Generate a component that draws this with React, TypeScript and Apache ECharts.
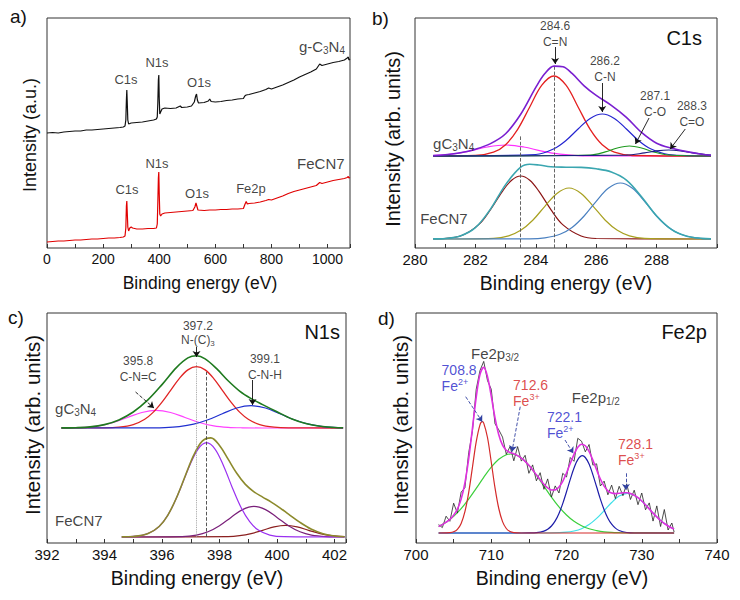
import React, { useEffect, useRef } from "react";
import * as echarts from "echarts";

const FONT = '"Liberation Sans", Arial, Helvetica, sans-serif';

// ---------- panel a: XPS survey (x: eV, y: relative intensity) ----------
const surveyGC3N4: number[][] = [
  [0, 115], [20, 115.5], [40, 115], [60, 116], [80, 116.5], [100, 117], [120, 117], [140, 118], [160, 118],
  [180, 118.5], [200, 119], [220, 119.5], [240, 120], [260, 120.5], [272, 121], [278, 122], [281, 128],
  [283, 148], [284.5, 158], [286, 146], [288, 128], [291, 124], [300, 125], [320, 125.5], [340, 126],
  [360, 127], [380, 128], [390, 129], [393, 131], [395, 145], [397, 168], [398.5, 173], [400, 150],
  [402, 134], [405, 136], [410, 139], [420, 140], [440, 139.5], [460, 140], [475, 142], [480, 140.5],
  [500, 141], [515, 142], [525, 146], [530, 152], [533, 154], [536, 148], [540, 145], [560, 145.5],
  [575, 147], [580, 149], [585, 146.5], [600, 146], [620, 146.5], [640, 147.5], [660, 148], [680, 149],
  [700, 149.5], [705, 152], [710, 153], [720, 153.5], [740, 155], [760, 156.5], [780, 158.5], [790, 160],
  [800, 159], [820, 161], [840, 163], [860, 165.5], [880, 168], [900, 171], [920, 173.5], [940, 176],
  [960, 179], [972, 184], [980, 182.5], [1000, 184], [1020, 185.5], [1040, 186.5], [1060, 188],
  [1070, 190], [1074, 191], [1076, 188], [1080, 189],
];
const surveyFeCN7: number[][] = [
  [0, 6], [20, 6.5], [40, 7], [60, 7], [80, 7.5], [100, 8], [120, 8], [140, 8.5], [160, 9], [180, 9],
  [200, 9.5], [220, 10], [240, 10], [260, 10.5], [272, 11], [278, 12], [281, 20], [283, 42], [284.5, 47],
  [286, 36], [288, 21], [291, 17], [295, 20], [300, 21], [305, 20], [320, 19], [340, 19], [360, 19.5],
  [380, 19.5], [390, 20], [393, 24], [395, 45], [397, 70], [398.5, 76], [400, 55], [402, 34], [405, 32],
  [410, 34], [420, 35], [440, 35.5], [460, 36], [480, 36.5], [500, 37], [520, 37.5], [527, 41], [531, 45],
  [534, 42], [538, 38], [560, 37.5], [580, 38], [600, 38], [620, 38.5], [640, 38.5], [660, 39], [680, 39],
  [700, 39.5], [706, 44], [710, 46.5], [714, 44], [720, 44.5], [740, 45], [760, 46], [780, 47.5],
  [790, 48.5], [800, 48], [820, 50], [840, 52], [860, 54.5], [880, 56.5], [900, 58], [920, 59.5],
  [940, 61], [960, 62.5], [972, 65.5], [980, 64.5], [1000, 66], [1020, 67.5], [1040, 68.5], [1060, 69.5],
  [1070, 70.5], [1074, 71.5], [1076, 70], [1080, 70.5],
];

// ---------- panel b: C1s ----------
const c1sEnvG: number[][] = [
  [280.6, 92.4], [281.0, 93.2], [281.5, 95.2], [282.0, 98.8], [282.5, 104.4], [283.0, 114.3], [283.5, 133.7],
  [284.0, 160.6], [284.3, 174.4], [284.6, 181.9], [284.9, 181.2], [285.2, 174.6], [285.6, 162.2],
  [286.0, 152.6], [286.5, 142.7], [287.0, 130.7], [287.5, 115.6], [288.0, 104.8], [288.5, 99.7],
  [289.0, 96.4], [289.5, 93.7], [289.8, 92.8],
];
const c1sRedG: number[][] = [
  [280.6, 92], [282.0, 92.5], [282.6, 95.8], [283.0, 103.3], [283.4, 118.7], [283.8, 141], [284.2, 162.8],
  [284.6, 172], [285.0, 162.8], [285.4, 141], [285.8, 118.7], [286.2, 103.3], [286.6, 95.8], [287.2, 92.5],
  [289.8, 92],
];
const c1sBlueG: number[][] = [
  [280.6, 92], [284.0, 93.5], [284.6, 99.2], [285.0, 107.5], [285.4, 119], [285.8, 129.6], [286.2, 134],
  [286.6, 129.6], [287.0, 119], [287.4, 107.5], [287.8, 99.2], [288.4, 93.5], [289.8, 92],
];
const c1sPinkG: number[][] = [
  [280.6, 92.4], [281.2, 93.8], [281.8, 96.9], [282.4, 101], [283.0, 103], [283.6, 101], [284.2, 96.9],
  [284.8, 93.8], [285.4, 92.4], [286.2, 92], [289.8, 92],
];
const c1sGreenG: number[][] = [
  [280.6, 92], [285.8, 93], [286.3, 96.1], [286.7, 100], [287.1, 102], [287.5, 100], [287.9, 96.1],
  [288.4, 93], [289.8, 92],
];
const c1sNavyG: number[][] = [
  [280.6, 92], [287.0, 92.8], [287.6, 95.1], [288.0, 97.1], [288.4, 98], [288.8, 97.1], [289.2, 95.1],
  [289.8, 92.8],
];
const c1sEnvF: number[][] = [
  [280.6, 9.1], [281.0, 9.5], [281.5, 12], [282.0, 20.3], [282.5, 38.9], [283.0, 63.4], [283.5, 80.8],
  [283.8, 83.8], [284.1, 83], [284.5, 81.2], [285.0, 80.8], [285.5, 80.6], [286.0, 79.2], [286.5, 76],
  [287.0, 67.9], [287.5, 51.3], [288.0, 32], [288.5, 18.4], [289.0, 11.8], [289.5, 9.6], [289.8, 9.2],
];
const c1sMaroonF: number[][] = [
  [280.6, 9], [281.5, 12], [282.1, 23.1], [282.5, 38.4], [282.9, 56.9], [283.2, 67.8], [283.5, 72],
  [283.8, 67.8], [284.1, 56.9], [284.5, 38.4], [284.9, 23.1], [285.5, 12], [286.0, 9.5], [289.8, 9],
];
const c1sOliveF: number[][] = [
  [280.6, 9], [282.6, 9.7], [283.1, 12.2], [283.5, 17.7], [283.9, 27.8], [284.3, 41.7], [284.7, 54.6],
  [285.1, 60], [285.5, 54.6], [285.9, 41.7], [286.3, 27.8], [286.7, 17.7], [287.1, 12.2], [287.6, 9.7],
  [289.8, 9],
];
const c1sSteelF: number[][] = [
  [280.6, 9], [283.8, 9.2], [284.3, 10.2], [284.8, 13.7], [285.2, 20.5], [285.6, 32], [286.0, 46.7],
  [286.4, 59.7], [286.8, 65], [287.2, 59.7], [287.6, 46.7], [288.0, 32], [288.4, 20.5], [288.8, 13.7],
  [289.3, 10.2], [289.8, 9.2],
];

// ---------- panel c: N1s ----------
const n1sEnvG: number[][] = [
  [392.5, 115.1], [393.0, 115.3], [393.5, 116.1], [394.0, 118.4], [394.5, 123.1], [395.0, 131], [395.5, 142.8],
  [396.0, 158.4], [396.5, 175.4], [396.9, 185.1], [397.2, 187.2], [397.5, 184.1], [397.9, 174.3],
  [398.3, 162.2], [398.7, 151.9], [399.1, 144.4], [399.5, 138.4], [400.0, 131.2], [400.5, 124.3],
  [401.0, 119.5], [401.5, 116.7], [402.0, 115.5], [402.3, 115.2],
];
const n1sRedG: number[][] = [
  [392.5, 115], [394.0, 115.1], [394.5, 115.8], [395.0, 118.4], [395.4, 123.8], [395.7, 130.9], [396.0, 140.9],
  [396.3, 152.7], [396.6, 164.4], [396.9, 173.1], [397.2, 176.3], [397.5, 173.1], [397.8, 164.4],
  [398.1, 152.7], [398.4, 140.9], [398.7, 130.9], [399.0, 123.8], [399.4, 118.4], [399.9, 115.8],
  [400.4, 115.1], [402.3, 115],
];
const n1sMagG: number[][] = [
  [392.5, 115], [392.8, 115.2], [393.3, 115.7], [393.8, 117.2], [394.3, 120.5], [394.8, 125.5], [395.3, 130.5],
  [395.8, 132.6], [396.3, 130.5], [396.8, 125.5], [397.3, 120.5], [397.8, 117.2], [398.3, 115.7],
  [398.8, 115.2], [399.5, 115], [402.3, 115],
];
const n1sBlueG: number[][] = [
  [392.5, 115], [395.6, 115.2], [396.1, 115.4], [396.6, 116.4], [397.1, 118.8], [397.6, 123.2], [398.1, 129.3],
  [398.6, 135], [399.1, 137.3], [399.6, 135], [400.1, 129.3], [400.6, 123.2], [401.1, 118.8], [401.6, 116.4],
  [402.1, 115.4], [402.3, 115.2],
];
const n1sEnvF: number[][] = [
  [394.6, 6.1], [395.0, 6.5], [395.5, 9.2], [395.9, 16.5], [396.2, 27.7], [396.5, 45], [396.8, 66.5],
  [397.1, 87.6], [397.4, 101.9], [397.7, 105.1], [398.0, 97.5], [398.3, 83.8], [398.6, 69.7], [398.9, 58.6],
  [399.2, 51.2], [399.5, 45.9], [399.8, 40.9], [400.1, 35.2], [400.4, 28.9], [400.8, 20.6], [401.2, 13.7],
  [401.6, 9.3], [402.0, 7], [402.35, 6.3],
];
const n1sVioF: number[][] = [
  [394.6, 6], [394.85, 6.3], [395.35, 7.9], [395.75, 12.9], [396.05, 21.3], [396.35, 35.5], [396.65, 55.1],
  [396.95, 76.5], [397.25, 93.7], [397.55, 100.3], [397.85, 93.7], [398.15, 76.5], [398.45, 55.1],
  [398.75, 35.5], [399.05, 21.3], [399.35, 12.9], [399.75, 7.9], [400.25, 6.3], [402.35, 6],
];
const n1sPurF: number[][] = [
  [394.6, 6], [396.7, 6.4], [397.2, 7.9], [397.6, 11.2], [398.0, 17.3], [398.4, 25.6], [398.8, 33.4],
  [399.2, 36.6], [399.6, 33.4], [400.0, 25.6], [400.4, 17.3], [400.8, 11.2], [401.2, 7.9], [401.7, 6.4],
  [402.35, 6],
];
const n1sMarF: number[][] = [
  [394.6, 6], [398.3, 6.4], [398.7, 7.3], [399.1, 9.4], [399.5, 12.7], [399.9, 16.1], [400.3, 17.6],
  [400.7, 16.1], [401.1, 12.7], [401.5, 9.4], [401.9, 7.3], [402.35, 6.3],
];

// ---------- panel d: Fe2p ----------
const fe2pRaw: number[][] = [
  [703.0, 18.5], [703.5, 15.4], [704.0, 26.8], [704.5, 21.7], [705.0, 39.8], [705.5, 29.9], [706.0, 50.9],
  [706.5, 55.2], [707.0, 90.2], [707.5, 111.7], [708.0, 153.7], [708.5, 172.4], [709.0, 181.6], [709.5, 162.4],
  [710.0, 153.8], [710.5, 119.2], [711.0, 113.2], [711.5, 105.9], [712.0, 88.7], [712.5, 96.5], [713.0, 82.2],
  [713.5, 96.4], [714.0, 81.9], [714.5, 87.7], [715.0, 69.7], [715.5, 78.1], [716.0, 62.2], [716.5, 70.3],
  [717.0, 53.7], [717.5, 64.1], [718.0, 46], [718.5, 57.1], [719.0, 50], [719.5, 69.7], [720.0, 66],
  [720.5, 85.5], [721.0, 81.7], [721.5, 104.7], [722.0, 101.8], [722.5, 91.2], [723.0, 98.5], [723.5, 77.9],
  [724.0, 79.2], [724.5, 57], [725.0, 61.9], [725.5, 48.2], [726.0, 57.9], [726.5, 44.4], [727.0, 56.7],
  [727.5, 47.3], [728.0, 59.2], [728.5, 43.5], [729.0, 52.8], [729.5, 38.3], [730.0, 50], [730.5, 33.2],
  [731.0, 40.1], [731.5, 21.9], [732.0, 37.1], [732.5, 16.5], [733.0, 33.5], [733.5, 13], [734.0, 20],
  [734.3, 11],
];
const fe2pEnv: number[][] = [
  [703.0, 16.5], [703.5, 18.4], [704.0, 20.8], [704.5, 23.7], [705.0, 27.8], [705.5, 33.9], [706.0, 43.9],
  [706.5, 60.2], [707.0, 84.2], [707.5, 114.7], [708.0, 145.7], [708.5, 168.4], [709.0, 175.6], [709.5, 166.4],
  [710.0, 146.8], [710.5, 125.2], [711.0, 108.2], [711.5, 97.9], [712.0, 92.7], [712.5, 90.5], [713.0, 89.2],
  [713.5, 87.4], [714.0, 84.9], [714.5, 81.7], [715.0, 77.7], [715.5, 73.1], [716.0, 68.2], [716.5, 63.3],
  [717.0, 58.7], [717.5, 55.1], [718.0, 53], [718.5, 53.1], [719.0, 56], [719.5, 61.7], [720.0, 70],
  [720.5, 79.5], [721.0, 88.7], [721.5, 95.7], [722.0, 98.8], [722.5, 97.2], [723.0, 91.5], [723.5, 82.9],
  [724.0, 73.2], [724.5, 64], [725.0, 56.9], [725.5, 52.2], [726.0, 49.9], [726.5, 49.4], [727.0, 49.7],
  [727.5, 50.3], [728.0, 50.2], [728.5, 49.5], [729.0, 47.8], [729.5, 45.3], [730.0, 42], [730.5, 38.2],
  [731.0, 34.1], [731.5, 29.9], [732.0, 26.1], [732.5, 22.5], [733.0, 19.5], [733.5, 17], [734.0, 15],
  [734.3, 14],
];
const fe2pRed: number[][] = [
  [703.0, 10], [704.0, 10.1], [704.5, 10.3], [705.0, 11.2], [705.5, 13.7], [706.0, 19.6], [706.5, 31.3],
  [707.0, 50.4], [707.5, 75.6], [708.0, 101.1], [708.5, 118.2], [708.8, 121.3], [709.0, 119.9], [709.5, 105.5],
  [710.0, 81], [710.5, 55.1], [711.0, 34.5], [711.5, 21.4], [712.0, 14.5], [712.5, 11.5], [713.0, 10.45],
  [714.0, 10], [734.3, 10],
];
const fe2pGreen: number[][] = [
  [703.0, 16.5], [704.0, 20.7], [705.0, 26.6], [706.0, 34.3], [707.0, 43.8], [708.0, 54.6], [709.0, 65.7],
  [710.0, 75.8], [711.0, 83.7], [712.0, 88.2], [712.6, 89], [713.0, 88.7], [714.0, 84.9], [715.0, 77.6],
  [716.0, 67.8], [717.0, 56.8], [718.0, 45.9], [719.0, 36.1], [720.0, 28], [721.0, 21.7], [722.0, 17.3],
  [723.0, 14.2], [724.0, 12.4], [725.0, 11.2], [726.0, 10.6], [727.0, 10.3], [728.0, 10.1], [734.3, 10],
];
const fe2pBlue: number[][] = [
  [703.0, 10], [714.0, 10], [715.0, 10.1], [716.0, 10.4], [717.0, 11.9], [717.5, 13.8], [718.0, 17],
  [718.5, 22.1], [719.0, 29.6], [719.5, 39.4], [720.0, 51.2], [720.5, 63.6], [721.0, 75], [721.5, 83.4],
  [722.1, 87.3], [722.5, 85.5], [723.0, 78.9], [723.5, 68.4], [724.0, 56.2], [724.5, 43.9], [725.0, 33.3],
  [725.5, 24.8], [726.0, 18.8], [726.5, 14.9], [727.0, 12.5], [728.0, 10.5], [729.0, 10], [734.3, 10],
];
const fe2pCyan: number[][] = [
  [703.0, 10], [716.0, 10], [718.0, 10.1], [720.0, 10.8], [721.0, 12], [722.0, 14.3], [723.0, 18.4],
  [724.0, 24.6], [725.0, 32.4], [726.0, 40.5], [727.0, 46.9], [728.1, 49.7], [729.0, 47.8], [730.0, 42],
  [731.0, 34.1], [732.0, 26.1], [733.0, 19.5], [734.0, 15], [734.3, 14],
];

// ---------- helpers ----------
const curve = (g: number, data: number[][], color: string, width = 1.2, smooth: number | boolean = 0.35, z = 2, extra: any = {}) => ({
  type: "line",
  xAxisIndex: g,
  yAxisIndex: g,
  data,
  smooth,
  symbol: "none",
  showSymbol: false,
  silent: true,
  z,
  lineStyle: { color, width },
  ...extra,
});

const subRich = (size: number, color = "#111") => ({
  n: { fontSize: size, lineHeight: size + 2, color, fontFamily: FONT },
  s: { fontSize: Math.round(size * 0.65), lineHeight: Math.round(size * 0.65), color, fontFamily: FONT, padding: [Math.round(size * 0.55), 0, 0, 0] },
  p: { fontSize: Math.round(size * 0.65), lineHeight: Math.round(size * 0.65), color, fontFamily: FONT, padding: [0, 0, Math.round(size * 0.55), 0] },
});

type Lbl = { x: number; y: number; text: string; size?: number; color?: string; pos?: string; lh?: number };

const labelSeries = (g: number, items: Lbl[], arrows: number[][] = [], arrowColor = "#111", dashed = false, dashedIdx: number[] = []) => ({
  type: "scatter",
  xAxisIndex: g,
  yAxisIndex: g,
  symbolSize: 0,
  silent: true,
  z: 20,
  data: items.map((it) => ({
    value: [it.x, it.y],
    label: {
      show: true,
      position: it.pos ?? "inside",
      distance: 0,
      formatter: it.text,
      color: it.color ?? "#111",
      fontSize: it.size ?? 12,
      lineHeight: it.lh ?? (it.size ?? 12) + 3,
      fontFamily: FONT,
      rich: subRich(it.size ?? 12, it.color ?? "#111"),
    },
  })),
  markLine: {
    silent: true,
    symbol: ["none", "arrow"],
    symbolSize: 6,
    label: { show: false },
    emphasis: { disabled: true },
    lineStyle: { color: arrowColor, width: 0.9, type: dashed ? "dashed" : "solid" },
    data: arrows.map((a, i) => [
      { coord: [a[0], a[1]], lineStyle: { color: arrowColor, width: 0.9, type: dashed || dashedIdx.includes(i) ? "dashed" : "solid" } },
      { coord: [a[2], a[3]] },
    ]),
  },
});

const guides = (lines: number[][], color: string, type: string) => ({
  silent: true,
  symbol: ["none", "none"],
  label: { show: false },
  emphasis: { disabled: true },
  lineStyle: { color, width: 0.9, type },
  data: lines.map((l) => [{ coord: [l[0], l[1]] }, { coord: [l[0], l[2]] }]),
});

const xAxisDef = (g: number, min: number, max: number, interval: number, labelStep: number, maxLabel: number, size: number) => ({
  type: "value",
  gridIndex: g,
  min,
  max,
  interval,
  axisLine: { show: false },
  splitLine: { show: false },
  axisTick: { show: true, inside: true, length: 4, lineStyle: { color: "#333", width: 1 } },
  axisLabel: {
    show: true,
    interval: 0,
    margin: 4,
    color: "#111",
    fontSize: size,
    fontFamily: FONT,
    formatter: (v: number) => {
      const r = Math.round(v);
      if (Math.abs(v - r) > 1e-6) return "";
      if (r % labelStep !== 0 || r > maxLabel) return "";
      return String(r);
    },
  },
});

const yAxisDef = (g: number) => ({ type: "value", gridIndex: g, min: 0, max: 230, show: false });

const txt = (text: string, x: number, y: number, size: number, align = "center", rotation = 0) => ({
  type: "text",
  x,
  y,
  rotation,
  silent: true,
  style: { text, fill: "#111", fontSize: size, fontFamily: FONT, align, verticalAlign: "middle", textAlign: align, textVerticalAlign: "middle" },
});

const option: any = {
  animation: false,
  backgroundColor: "#fff",
  grid: [
    { left: 47, top: 18, width: 303, height: 230 },
    { left: 415, top: 18, width: 302, height: 230 },
    { left: 47, top: 313, width: 299, height: 230 },
    { left: 416, top: 313, width: 301, height: 230 },
  ].map((g) => ({ ...g, show: true, borderColor: "#333", borderWidth: 1, backgroundColor: "transparent" })),
  xAxis: [
    xAxisDef(0, 0, 1080, 100, 200, 1000, 14),
    xAxisDef(1, 280, 290, 1, 2, 288, 15),
    xAxisDef(2, 392, 402.4, 1, 2, 402, 15),
    xAxisDef(3, 700, 740, 5, 10, 740, 15),
  ],
  yAxis: [yAxisDef(0), yAxisDef(1), yAxisDef(2), yAxisDef(3)],
  graphic: [
    txt("a)", 10, 16, 19, "left"),
    txt("b)", 372, 18, 19, "left"),
    txt("c)", 8, 317, 19, "left"),
    txt("d)", 378, 318, 19, "left"),
    txt("C1s", 702, 38, 20, "right"),
    txt("N1s", 340, 332, 20, "right"),
    txt("Fe2p", 707, 332, 20, "right"),
    txt("Binding energy (eV)", 200, 283, 17.5),
    txt("Binding energy (eV)", 566, 283, 19.5),
    txt("Binding energy (eV)", 197, 578, 19.5),
    txt("Binding energy (eV)", 562, 578, 19.5),
    txt("Intensity (a.u.)", 30, 135, 18, "center", Math.PI / 2),
    txt("Intensity (arb. units)", 393, 139, 20, "center", Math.PI / 2),
    txt("Intensity (arb. units)", 32, 425, 20.5, "center", Math.PI / 2),
    txt("Intensity (arb. units)", 400, 425, 20.5, "center", Math.PI / 2),
  ],
  series: [
    // a
    curve(0, surveyGC3N4, "#111", 1.2, false),
    curve(0, surveyFeCN7, "#e00000", 1.2, false),
    labelSeries(0, [
      { x: 281.5, y: 169, text: "C1s", size: 13 },
      { x: 392, y: 186, text: "N1s", size: 13 },
      { x: 541.7, y: 166, text: "O1s", size: 13 },
      { x: 980, y: 202, text: "{n|g-C}{s|3}{n|N}{s|4}", size: 15 },
      { x: 285, y: 59, text: "C1s", size: 13 },
      { x: 392, y: 85, text: "N1s", size: 13 },
      { x: 534.6, y: 55, text: "O1s", size: 13 },
      { x: 727, y: 60, text: "Fe2p", size: 13 },
      { x: 976, y: 85, text: "FeCN7", size: 15 },
    ]),
    // b upper
    curve(1, c1sPinkG, "#ff30ff"),
    curve(1, c1sRedG, "#e42020", 1.3, 0.35, 2, {
      markLine: guides([[284.6, 0, 181], [283.5, 0, 112]], "#555", "dashed"),
    }),
    curve(1, c1sBlueG, "#2424d0"),
    curve(1, c1sGreenG, "#1f9a1f"),
    curve(1, c1sNavyG, "#1c1c80"),
    curve(1, c1sEnvG, "#7a1fd0", 1.6, 0.35, 3),
    // b lower
    curve(1, c1sMaroonF, "#8b1414"),
    curve(1, c1sOliveF, "#a8a020"),
    curve(1, c1sSteelF, "#4a80c0"),
    curve(1, c1sEnvF, "#3aa6b0", 1.6, 0.35, 3),
    labelSeries(1, [
      { x: 284.64, y: 214, text: "284.6\nC=N", size: 12, lh: 16 },
      { x: 286.29, y: 179, text: "286.2\nC-N", size: 12, lh: 16 },
      { x: 287.95, y: 144.5, text: "287.1\nC-O", size: 12, lh: 16 },
      { x: 289.17, y: 134, text: "288.3\nC=O", size: 12, lh: 16 },
      { x: 280.6, y: 105, text: "{n|gC}{s|3}{n|N}{s|4}", size: 15, pos: "right" },
      { x: 280.17, y: 30, text: "FeCN7", size: 15, pos: "right" },
    ], [
      [284.64, 201, 284.64, 184],
      [286.2, 165, 286.2, 136],
      [287.75, 130, 287.3, 104],
      [288.95, 119, 288.45, 99],
    ]),
    // c upper
    curve(2, n1sMagG, "#ff40ff"),
    curve(2, n1sRedG, "#e02424", 1.3, 0.35, 2, {
      markLine: guides([[397.2, 6, 181]], "#999", "dotted"),
    }),
    curve(2, n1sBlueG, "#2030d0", 1.2, 0.35, 2, {
      markLine: guides([[397.55, 6, 171]], "#444", "dashed"),
    }),
    curve(2, n1sEnvG, "#1f7a1f", 1.6, 0.35, 3),
    // c lower
    curve(2, n1sMarF, "#8b2020"),
    curve(2, n1sPurF, "#7a207a"),
    curve(2, n1sVioF, "#9a30f0"),
    curve(2, n1sEnvF, "#8c8a2c", 1.6, 0.35, 3),
    labelSeries(2, [
      { x: 397.25, y: 210, text: "{n|397.2}\n{n|N-(C)}{s|3}", size: 12 },
      { x: 395.17, y: 174.5, text: "395.8\nC-N=C", size: 12, lh: 16 },
      { x: 399.58, y: 176, text: "399.1\nC-N-H", size: 12, lh: 16 },
      { x: 392.28, y: 135, text: "{n|gC}{s|3}{n|N}{s|4}", size: 15, pos: "right" },
      { x: 392.28, y: 23, text: "FeCN7", size: 15, pos: "right" },
    ], [
      [397.2, 196, 397.2, 186],
      [395.08, 151, 395.72, 135],
      [399.15, 163, 399.15, 138],
    ], "#111", false, [1]),
    // d
    curve(3, fe2pCyan, "#3fe0e8"),
    curve(3, fe2pGreen, "#3ccf3c"),
    curve(3, fe2pBlue, "#1c1ca8"),
    curve(3, fe2pRed, "#d42a2a"),
    curve(3, fe2pRaw, "#222", 0.8, false, 3),
    curve(3, fe2pEnv, "#e030e0", 1.6, 0.35, 4),
    labelSeries(3, [
      { x: 710.5, y: 190, text: "{n|Fe2p}{s|3/2}", size: 15 },
      { x: 723.9, y: 146, text: "{n|Fe2p}{s|1/2}", size: 15 },
      { x: 703.4, y: 165.5, text: "{n|708.8}\n{n|Fe}{p|2+}", size: 14, color: "#2424c8", pos: "right" },
      { x: 712.9, y: 150.5, text: "{n|712.6}\n{n|Fe}{p|3+}", size: 14, color: "#d42020", pos: "right" },
      { x: 717.4, y: 118.5, text: "{n|722.1}\n{n|Fe}{p|2+}", size: 14, color: "#2424c8", pos: "right" },
      { x: 726.85, y: 91.5, text: "{n|728.1}\n{n|Fe}{p|3+}", size: 14, color: "#d42020", pos: "right" },
    ], [
      [706.6, 146.3, 708.8, 121.3],
      [713.85, 136.3, 712.75, 91.3],
      [719.8, 103, 720.9, 89.7],
      [727.9, 69.7, 727.9, 53],
    ], "#3040a0", true),
  ],
};

export default function App() {
  const ref = useRef<HTMLDivElement>(null);
  useEffect(() => {
    document.body.style.margin = "0";
    const chart = echarts.init(ref.current!, undefined, { renderer: "svg" });
    chart.setOption(option);
    return () => chart.dispose();
  }, []);
  return <div ref={ref} style={{ width: 740, height: 600, background: "#fff" }} />;
}
